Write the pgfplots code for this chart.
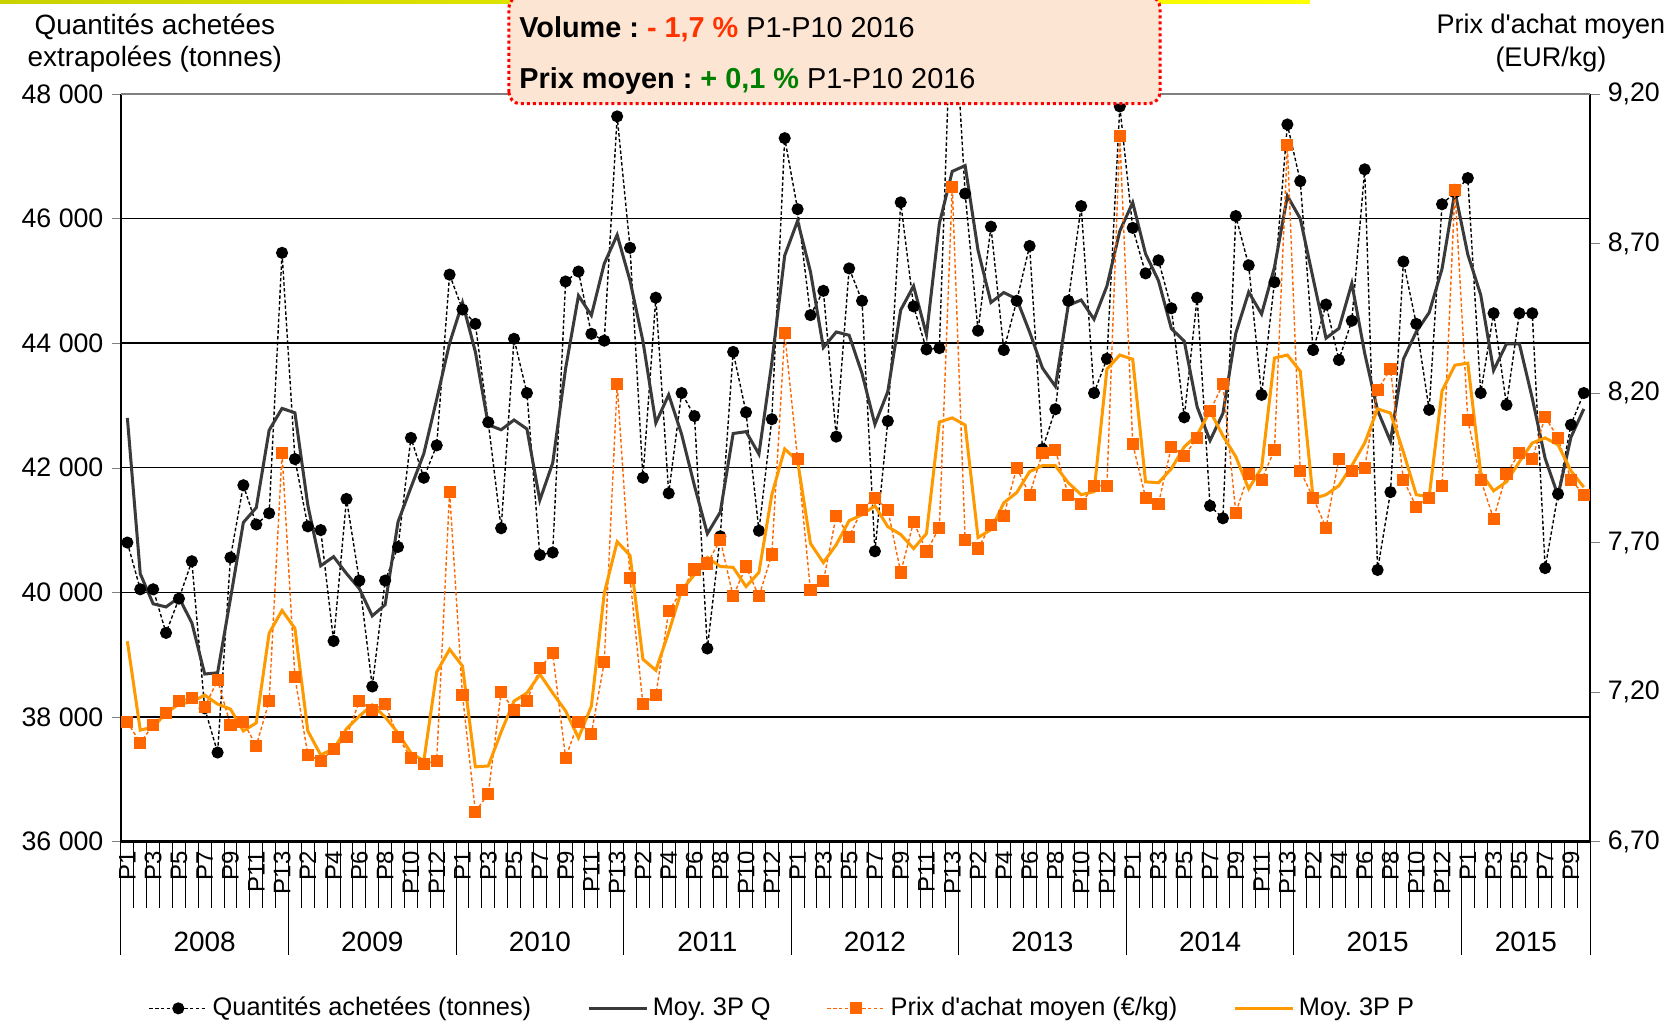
\documentclass[border=0pt]{standalone}
\usepackage{fontspec}
\setmainfont{Liberation Sans}[Ligatures=TeXOff]
\usepackage{pgfplots}
\usepackage{pgfplotstable}
\pgfplotsset{compat=1.18}
\frenchspacing

\definecolor{mavgq}{HTML}{3A3A3A}
\definecolor{prix}{HTML}{FF6600}
\definecolor{mavgp}{HTML}{FF9900}
\definecolor{boxfill}{HTML}{FDE5D3}
\definecolor{boxline}{HTML}{FF0000}
\definecolor{volred}{HTML}{FF3300}
\definecolor{prixgreen}{HTML}{008000}
\definecolor{barleft}{HTML}{C8D200}

% i = period index, q = quantities, mq = 3P moving avg, p = price, mp = 3P moving avg
\pgfplotstableread{
i q mq p mp
0 40800 42800 7.10 7.370
1 40050 40300 7.03 7.073
2 40050 39817 7.09 7.083
3 39350 39767 7.13 7.130
4 39900 39917 7.17 7.160
5 40500 39513 7.18 7.167
6 38140 38690 7.15 7.190
7 37430 38710 7.24 7.160
8 40560 39903 7.09 7.143
9 41720 41123 7.10 7.070
10 41090 41360 7.02 7.097
11 41270 42603 7.17 7.397
12 45450 42953 8.00 7.473
13 42140 42883 7.25 7.413
14 41060 41400 6.99 7.070
15 41000 40427 6.97 6.990
16 39220 40573 7.01 7.010
17 41500 40303 7.05 7.077
18 40190 40060 7.17 7.120
19 38490 39623 7.14 7.157
20 40190 39803 7.16 7.117
21 40730 41133 7.05 7.063
22 42480 41683 6.98 6.997
23 41840 42227 6.96 6.970
24 42360 43100 6.97 7.267
25 45100 44000 7.87 7.343
26 44540 44650 7.19 7.287
27 44310 43860 6.80 6.950
28 42730 42690 6.86 6.953
29 41030 42610 7.20 7.067
30 44070 42767 7.14 7.170
31 43200 42623 7.17 7.197
32 40600 41480 7.28 7.260
33 40640 42077 7.33 7.197
34 44990 43593 6.98 7.137
35 45150 44763 7.10 7.047
36 44150 44447 7.06 7.153
37 44040 45277 7.30 7.530
38 47640 45737 8.23 7.703
39 45530 45003 7.58 7.657
40 41840 44033 7.16 7.310
41 44730 42720 7.19 7.273
42 41590 43173 7.47 7.400
43 43200 42540 7.54 7.540
44 42830 41710 7.61 7.593
45 39100 40943 7.63 7.650
46 40900 41287 7.71 7.620
47 43860 42550 7.52 7.617
48 42890 42580 7.62 7.553
49 40990 42220 7.52 7.600
50 42780 43687 7.66 7.860
51 47290 45407 8.40 8.013
52 46150 45963 7.98 7.973
53 44450 45147 7.54 7.697
54 44840 43930 7.57 7.633
55 42500 44180 7.79 7.693
56 45200 44127 7.72 7.773
57 44680 43513 7.81 7.793
58 40660 42697 7.85 7.823
59 42750 43223 7.81 7.753
60 46260 44533 7.60 7.727
61 44590 44917 7.77 7.680
62 43900 44137 7.67 7.730
63 43920 45923 7.75 8.103
64 49950 46757 8.89 8.117
65 46400 46850 7.71 8.093
66 44200 45490 7.68 7.717
67 45870 44653 7.76 7.743
68 43890 44813 7.79 7.833
69 44680 44710 7.95 7.867
70 45560 44180 7.86 7.937
71 42300 43600 8.00 7.957
72 42940 43307 8.01 7.957
73 44680 44607 7.86 7.900
74 46200 44693 7.83 7.860
75 43200 44383 7.89 7.870
76 43750 44917 7.89 8.280
77 47800 45800 9.06 8.327
78 45850 46257 8.03 8.313
79 45120 45433 7.85 7.903
80 45330 45003 7.83 7.900
81 44560 44233 8.02 7.947
82 42810 44033 7.99 8.020
83 44730 42977 8.05 8.060
84 41390 42437 8.14 8.140
85 41190 42873 8.23 8.057
86 46040 44160 7.80 7.987
87 45250 44820 7.93 7.880
88 43170 44467 7.91 7.950
89 44980 45220 8.01 8.317
90 47510 46363 9.03 8.327
91 46600 46000 7.94 8.273
92 43890 45037 7.85 7.847
93 44620 44080 7.75 7.860
94 43730 44237 7.98 7.890
95 44360 44960 7.94 7.957
96 46790 43837 7.95 8.033
97 40360 42920 8.21 8.147
98 41610 42427 8.28 8.133
99 45310 43743 7.91 8.003
100 44310 44183 7.82 7.860
101 42930 44490 7.85 7.853
102 46230 45193 7.89 8.207
103 46420 46433 8.88 8.293
104 46650 45423 8.11 8.300
105 43200 44777 7.91 7.933
106 44480 43563 7.78 7.873
107 43010 43990 7.93 7.903
108 44480 43990 8.00 7.970
109 44480 43117 7.98 8.033
110 40390 42150 8.12 8.050
111 41580 41553 8.05 8.027
112 42690 42490 7.91 7.940
113 43200 42945 7.86 7.885
}\data

\pgfplotsset{
  base/.style={
    scale only axis, width=631.8pt, height=321.5pt,
    xmin=-0.5, xmax=113.5,
    tick align=outside, major tick length=4pt,
    yticklabel style={font=\fontsize{11.5}{13}\selectfont},
  },
}

\begin{document}
\begin{tikzpicture}
\path[use as bounding box] (-52.0pt,-79.7pt) rectangle (669.1pt,361.9pt);

\begin{axis}[base,
  ymin=36000, ymax=48000, scaled y ticks=false,
  ytick={36000,38000,40000,42000,44000,46000,48000},
  yticklabels={36 000,38 000,40 000,42 000,44 000,46 000,48 000},
  ymajorgrids, grid style={black, line width=0.6pt},
  axis y line*=left, axis x line*=bottom,
  y axis line style={line width=0.9pt},
  x axis line style={line width=1.3pt},
  xtick={0,2,...,112},
  xticklabels={P1,P3,P5,P7,P9,P11,P13,P2,P4,P6,P8,P10,P12,
               P1,P3,P5,P7,P9,P11,P13,P2,P4,P6,P8,P10,P12,
               P1,P3,P5,P7,P9,P11,P13,P2,P4,P6,P8,P10,P12,
               P1,P3,P5,P7,P9,P11,P13,P2,P4,P6,P8,P10,P12,
               P1,P3,P5,P7,P9},
  major x tick style={draw=none},
  xticklabel style={font=\fontsize{10.3}{12}\selectfont, rotate=90, anchor=east, inner sep=0pt},
]
\addplot[black, line width=0.6pt, dash pattern=on 1.5pt off 1pt,
  mark=*, mark size=2.3pt, mark options={solid}] table[x=i, y=q] {\data};
\addplot[mavgq, line width=1.3pt, no markers] table[x=i, y=mq] {\data};
\end{axis}

\begin{axis}[base,
  ymin=6.7, ymax=9.2,
  ytick={6.7,7.2,7.7,8.2,8.7,9.2},
  yticklabels={{6,70},{7,20},{7,70},{8,20},{8,70},{9,20}},
  axis y line*=right, axis x line=none,
  y axis line style={line width=0.9pt},
  legend columns=4,
  legend style={at={(0.451,-0.223)}, anchor=center, draw=none, fill=none,
    font=\fontsize{10.9}{12}\selectfont,
    /tikz/every even column/.append style={column sep=22pt}},
  legend image code/.code={\draw[mark repeat=2, mark phase=2, #1]
    plot coordinates {(0pt,0pt) (12.5pt,0pt) (25pt,0pt)};},
]
\addlegendimage{black, line width=0.6pt, dash pattern=on 1.5pt off 1pt,
  mark=*, mark size=2.3pt, mark options={solid}}
\addlegendentry{Quantités achetées (tonnes)}
\addlegendimage{mavgq, line width=1.3pt, no markers}
\addlegendentry{Moy. 3P Q}
\addplot[prix, line width=0.6pt, dash pattern=on 1.5pt off 1pt,
  mark=square*, mark size=2.3pt, mark options={solid}] table[x=i, y=p] {\data};
\addlegendentry{Prix d'achat moyen (€/kg)}
\addplot[mavgp, line width=1.3pt, no markers] table[x=i, y=mp] {\data};
\addlegendentry{Moy. 3P P}
\end{axis}

% top border of the plot area
\draw[gray, line width=0.6pt] (0,321.5pt) -- (631.8pt,321.5pt);

% category separators and year blocks
\foreach \k in {0,...,114}
  \draw[black, line width=0.4pt] ({5.54211pt*\k},0) -- ++(0,-28.4pt);
\foreach \k in {0,13,26,39,52,65,78,91,104,114}
  \draw[black, line width=0.4pt] ({5.54211pt*\k},0) -- ++(0,-48.6pt);
\foreach \c/\y in {6.5/2008,19.5/2009,32.5/2010,45.5/2011,58.5/2012,71.5/2013,84.5/2014,97.5/2015,109/2015}
  \node[font=\fontsize{12}{14}\selectfont] at ({5.54211pt*\c},-43.1pt) {\y};

% axis titles
\node[align=center, font=\fontsize{12}{13.8}\selectfont] at (14.6pt,343.4pt)
  {Quantités achetées\\extrapolées (tonnes)};
\node[align=center, font=\fontsize{11.6}{13.8}\selectfont] at (614.9pt,343.4pt)
  {Prix d'achat moyen\\(EUR/kg)};

% top banner and header box
\shade[left color=barleft, right color=yellow] (-52pt,360.2pt) rectangle (511.2pt,362pt);
\draw[boxline, line width=1.3pt, dash pattern=on 1.3pt off 1.3pt, rounded corners=5pt,
  fill=boxfill] (166.8pt,317.3pt) rectangle (446.8pt,363.5pt);
\node[anchor=west, font=\fontsize{12.4}{14}\selectfont] at (167.8pt,349.1pt)
  {\textbf{Volume :} \textcolor{volred}{\textbf{- 1,7 \%}} P1-P10 2016};
\node[anchor=west, font=\fontsize{12.4}{14}\selectfont] at (167.8pt,327.0pt)
  {\textbf{Prix moyen :} \textcolor{prixgreen}{\textbf{+ 0,1 \%}} P1-P10 2016};
\end{tikzpicture}
\end{document}
